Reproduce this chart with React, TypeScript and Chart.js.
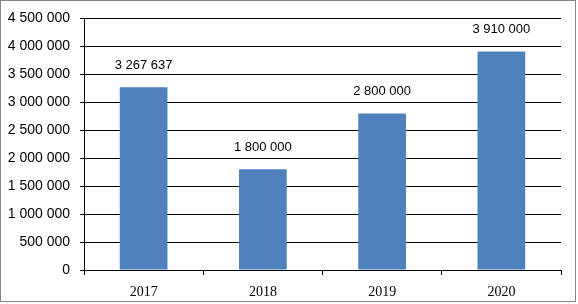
import React, { useEffect, useRef } from "react";
import { Chart, registerables } from "chart.js";

Chart.register(...registerables);

const categories = ["2017", "2018", "2019", "2020"];
const values = [3267637, 1800000, 2800000, 3910000];
const yMin = 0;
const yMax = 4500000;
const yStep = 500000;

const fmt = (v: number) => String(Math.round(v)).replace(/\B(?=(\d{3})+(?!\d))/g, " ");

const framePlugin = {
  id: "frame",
  afterDraw(chart: any) {
    const ctx = chart.ctx;
    ctx.save();
    ctx.strokeStyle = "#878787";
    ctx.lineWidth = 1;
    ctx.strokeRect(0.5, 0.5, 575, 301);
    ctx.restore();
  },
};

const labelPlugin = {
  id: "barLabels",
  afterDatasetsDraw(chart: any) {
    const ctx = chart.ctx;
    const meta = chart.getDatasetMeta(0);
    ctx.save();
    ctx.font = "13px 'Liberation Sans', Arial, sans-serif";
    ctx.fillStyle = "#000";
    ctx.textAlign = "center";
    ctx.textBaseline = "middle";
    meta.data.forEach((bar: any, i: number) => {
      ctx.fillText(fmt(values[i]), bar.x, bar.y - 22);
    });
    ctx.restore();
  },
};

export default function App() {
  const ref = useRef<HTMLCanvasElement>(null);
  useEffect(() => {
    if (!ref.current) return;
    const chart = new Chart(ref.current, {
      type: "bar",
      data: {
        labels: categories,
        datasets: [
          {
            data: values,
            backgroundColor: "#4F81BD",
            borderWidth: 0,
            barPercentage: 0.4,
            categoryPercentage: 1,
          },
        ],
      },
      options: {
        responsive: false,
        animation: false,
        layout: { padding: { top: 16, right: 17, left: 0, bottom: 0 } },
        plugins: { legend: { display: false }, tooltip: { enabled: false } },
        scales: {
          x: {
            offset: true,
            grid: {
              offset: true,
              drawOnChartArea: false,
              drawTicks: true,
              tickLength: 5,
              color: "#000",
            },
            border: { color: "#000", width: 1 },
            ticks: {
              color: "#000",
              font: { family: "'Liberation Serif', 'Times New Roman', serif", size: 14 },
              padding: 9,
            },
            afterFit: (s: any) => {
              s.height = 34;
            },
          },
          y: {
            min: yMin,
            max: yMax,
            grid: { color: "#000", tickLength: 4, lineWidth: 1 },
            border: { color: "#000", width: 1 },
            ticks: {
              stepSize: yStep,
              color: "#000",
              padding: 10,
              font: { family: "'Liberation Sans', Arial, sans-serif", size: 14 },
              callback: (v: any) => fmt(Number(v)),
            },
            afterFit: (s: any) => {
              s.width = 84;
            },
          },
        },
      },
      plugins: [framePlugin, labelPlugin],
    });
    return () => chart.destroy();
  }, []);
  return (
    <div style={{ position: "absolute", left: 0, top: 0, width: 578, height: 304, background: "#fff" }}>
      <canvas ref={ref} width={578} height={304} />
    </div>
  );
}
